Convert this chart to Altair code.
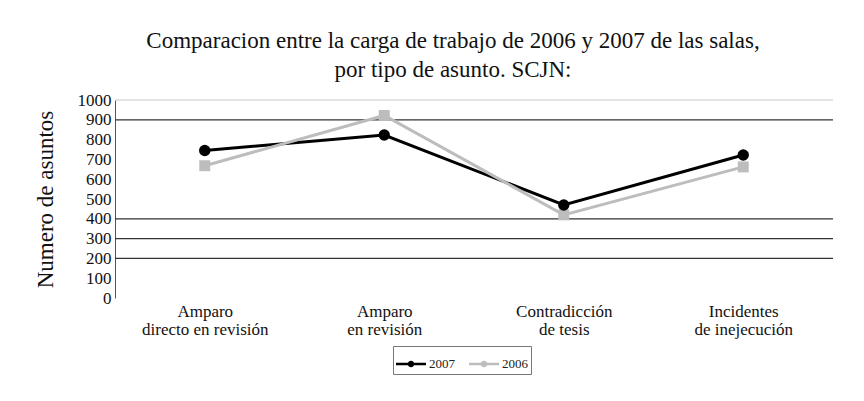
import altair as alt
import pandas as pd

categories = ["Amparo\ndirecto en revisión", "Amparo\nen revisión",
              "Contradicción\nde tesis", "Incidentes\nde inejecución"]
series = ["2007", "2006"]
values_2007 = [745, 823, 470, 722]
values_2006 = [668, 922, 420, 662]
grid_dark = [200, 300, 400, 900]
grid_light = [1000]
y_ticks = [0, 100, 200, 300, 400, 500, 600, 700, 800, 900, 1000]
title_lines = ["Comparacion entre la carga de trabajo de 2006 y 2007 de las salas,",
               "por tipo de asunto. SCJN:"]

rows = []
for c, v in zip(categories, values_2007):
    rows.append({"cat": c, "serie": "2007", "val": v})
for c, v in zip(categories, values_2006):
    rows.append({"cat": c, "serie": "2006", "val": v})
df = pd.DataFrame(rows)

FONT = "Liberation Serif"

yscale = alt.Scale(domain=[0, 1000], nice=False)
yaxis = alt.Axis(values=y_ticks, format="d", grid=False, ticks=False, domainColor="#555",
                 labelOverlap=False,
                 labelFont=FONT, labelFontSize=17, labelColor="#111",
                 labelPadding=4, titleFont=FONT, titleFontSize=23,
                 titleFontWeight="normal", titleColor="#111",
                 titlePadding=20)
ytitle = "Numero de asuntos"

xenc = alt.X("cat:N", sort=categories, title=None,
             scale=alt.Scale(paddingOuter=0.5, paddingInner=0),
             axis=alt.Axis(labelExpr="split(datum.label, '\\n')", labelAngle=0,
                           labelFontSize=17, labelLineHeight=18, labelFont=FONT,
                           labelColor="#111", ticks=False, domain=False, grid=False,
                           labelPadding=5, labelBaseline="top"))

color = alt.Color("serie:N", sort=series,
                  scale=alt.Scale(domain=series, range=["#000000", "#bdbdbd"]),
                  legend=alt.Legend(title=None, orient="none", direction="horizontal",
                                    legendX=278, legendY=246,
                                    symbolType="M-1,-0.09L1,-0.09L1,0.09L-1,0.09Z M0.22,0A0.22,0.22 0 1 1 -0.22,0A0.22,0.22 0 1 1 0.22,0Z",
                                    symbolSize=900, symbolStrokeWidth=0,
                                    labelFont=FONT, labelFontSize=13, labelColor="#222",
                                    strokeColor="#777", padding=3,
                                    columnPadding=14, labelOffset=3))

dark = alt.Chart(pd.DataFrame({"g": grid_dark})).mark_rule(color="#333333", strokeWidth=1.2).encode(
    y=alt.Y("g:Q", scale=yscale, axis=yaxis, title=ytitle))
light = alt.Chart(pd.DataFrame({"g": grid_light})).mark_rule(color="#c8c8c8", strokeWidth=1.2).encode(
    y=alt.Y("g:Q", scale=yscale, axis=yaxis, title=ytitle))

base = alt.Chart(df).encode(
    x=xenc,
    y=alt.Y("val:Q", scale=yscale, title=ytitle, axis=yaxis),
    color=color,
)

lines = base.mark_line(strokeWidth=3)
circles = base.transform_filter(alt.datum.serie == "2007").mark_point(
    shape="circle", filled=True, size=130, opacity=1)
squares = base.transform_filter(alt.datum.serie == "2006").mark_point(
    shape="square", filled=True, size=120, opacity=1)

chart = alt.layer(light, dark, lines, squares, circles).properties(
    width=718, height=198,
    padding={"left": 107, "top": 92, "right": 23, "bottom": 93},
    autosize=alt.AutoSizeParams(type="none"),
    title=alt.TitleParams(
        title_lines[0], subtitle=title_lines[1],
        font=FONT, fontSize=23, fontWeight="normal", color="#111",
        subtitleFont=FONT, subtitleFontSize=23, subtitleColor="#111",
        subtitlePadding=6,
        anchor="middle", dx=-21, offset=9),
).configure(background="white"
).configure_view(stroke="transparent", strokeWidth=0
).configure_axisX(domain=False, grid=False, ticks=False)

chart.save("out.html", embed_options={"renderer": "svg", "actions": False})
